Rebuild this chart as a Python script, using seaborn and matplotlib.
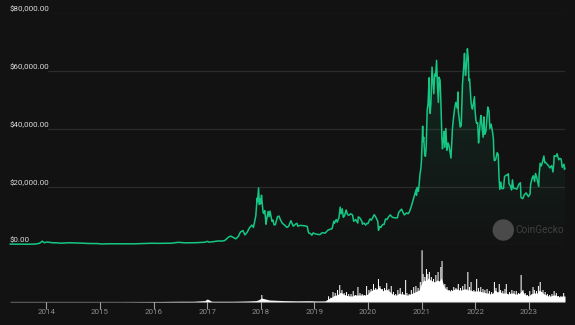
import matplotlib
matplotlib.use("Agg")
import matplotlib.pyplot as plt
import matplotlib.dates as mdates
from matplotlib.patches import Ellipse
import seaborn as sns
import numpy as np
import pandas as pd

# ---------------- data ----------------
price_dates = [
    "2013-04-28", "2013-06-15", "2013-08-15", "2013-10-15", "2013-11-15", "2013-12-04", "2013-12-18",
    "2014-01-05", "2014-02-15", "2014-03-15", "2014-04-10", "2014-06-01", "2014-08-15", "2014-10-15",
    "2014-12-15", "2015-01-14", "2015-03-10", "2015-06-10", "2015-08-20", "2015-11-04", "2015-12-15",
    "2016-02-15", "2016-05-01", "2016-06-18", "2016-08-05", "2016-10-15", "2016-12-15",
    "2017-01-04", "2017-01-12", "2017-02-15", "2017-03-10", "2017-04-15", "2017-05-01", "2017-05-25",
    "2017-06-10", "2017-07-15", "2017-08-01", "2017-08-15", "2017-09-01", "2017-09-15", "2017-10-01",
    "2017-10-15", "2017-11-01", "2017-11-12", "2017-11-28", "2017-12-07", "2017-12-10", "2017-12-17",
    "2017-12-22", "2017-12-27", "2017-12-31",
    "2018-01-06", "2018-01-10", "2018-01-17", "2018-01-22", "2018-01-28", "2018-02-06", "2018-02-10",
    "2018-02-20", "2018-02-26", "2018-03-05", "2018-03-18", "2018-03-25", "2018-04-01", "2018-04-10",
    "2018-04-25", "2018-05-05", "2018-05-15", "2018-05-28", "2018-06-10", "2018-06-28", "2018-07-10",
    "2018-07-25", "2018-08-10", "2018-08-28", "2018-09-05", "2018-09-10", "2018-09-20", "2018-10-01",
    "2018-10-15", "2018-11-01", "2018-11-14", "2018-11-20", "2018-11-25", "2018-12-05", "2018-12-15",
    "2018-12-24",
    "2019-01-01", "2019-01-10", "2019-02-07", "2019-02-24", "2019-03-15", "2019-04-02", "2019-04-20",
    "2019-05-01", "2019-05-14", "2019-05-17", "2019-05-30", "2019-06-06", "2019-06-18", "2019-06-26",
    "2019-07-02", "2019-07-10", "2019-07-17", "2019-07-25", "2019-08-06", "2019-08-15", "2019-08-25",
    "2019-09-05", "2019-09-18", "2019-09-26", "2019-10-10", "2019-10-24", "2019-10-27", "2019-11-05",
    "2019-11-20", "2019-11-25", "2019-12-05", "2019-12-17", "2019-12-25",
    "2020-01-01", "2020-01-15", "2020-01-25", "2020-02-13", "2020-02-25", "2020-03-08", "2020-03-13",
    "2020-03-20", "2020-03-30", "2020-04-10", "2020-04-20", "2020-04-30", "2020-05-10", "2020-05-20",
    "2020-06-01", "2020-06-15", "2020-07-01", "2020-07-20", "2020-07-28", "2020-08-17", "2020-08-25",
    "2020-09-05", "2020-09-20", "2020-10-01", "2020-10-10", "2020-10-21", "2020-11-05", "2020-11-17",
    "2020-11-25", "2020-11-27", "2020-12-01", "2020-12-10", "2020-12-16", "2020-12-20", "2020-12-27",
    "2020-12-31",
    "2021-01-08", "2021-01-11", "2021-01-15", "2021-01-22", "2021-01-27", "2021-02-01", "2021-02-08",
    "2021-02-14", "2021-02-21", "2021-02-23", "2021-02-28", "2021-03-05", "2021-03-13", "2021-03-17",
    "2021-03-25", "2021-03-31", "2021-04-06", "2021-04-13", "2021-04-18", "2021-04-25", "2021-04-30",
    "2021-05-07", "2021-05-12", "2021-05-19", "2021-05-23", "2021-05-28", "2021-06-03", "2021-06-08",
    "2021-06-15", "2021-06-22", "2021-06-30", "2021-07-07", "2021-07-20", "2021-07-30", "2021-08-07",
    "2021-08-14", "2021-08-22", "2021-08-31", "2021-09-06", "2021-09-08", "2021-09-21", "2021-09-28",
    "2021-10-06", "2021-10-15", "2021-10-20", "2021-10-27", "2021-11-01", "2021-11-09", "2021-11-15",
    "2021-11-19", "2021-11-24", "2021-11-28", "2021-12-04", "2021-12-10", "2021-12-14", "2021-12-21",
    "2021-12-27", "2021-12-31",
    "2022-01-05", "2022-01-10", "2022-01-18", "2022-01-24", "2022-01-28", "2022-02-07", "2022-02-10",
    "2022-02-14", "2022-02-24", "2022-03-01", "2022-03-07", "2022-03-15", "2022-03-28", "2022-04-05",
    "2022-04-11", "2022-04-20", "2022-04-30", "2022-05-05", "2022-05-09", "2022-05-12", "2022-05-20",
    "2022-05-31", "2022-06-07", "2022-06-13", "2022-06-18", "2022-06-25", "2022-07-01", "2022-07-13",
    "2022-07-20", "2022-07-30", "2022-08-10", "2022-08-15", "2022-08-19", "2022-08-31", "2022-09-06",
    "2022-09-12", "2022-09-19", "2022-10-01", "2022-10-12", "2022-10-26", "2022-11-05", "2022-11-09",
    "2022-11-21", "2022-12-01", "2022-12-14", "2022-12-30",
    "2023-01-10", "2023-01-14", "2023-01-25", "2023-02-01", "2023-02-10", "2023-02-16", "2023-02-24",
    "2023-03-10", "2023-03-13", "2023-03-20", "2023-03-28", "2023-04-03", "2023-04-14", "2023-04-20",
    "2023-04-26", "2023-05-10", "2023-05-15", "2023-05-25", "2023-06-06", "2023-06-15", "2023-06-21",
    "2023-06-23", "2023-07-06", "2023-07-13", "2023-07-24", "2023-08-01", "2023-08-10", "2023-08-17",
    "2023-08-29", "2023-09-01", "2023-09-05",
]
price_values = [
    135, 110, 100, 130, 420, 1150, 600,
    850, 600, 570, 450, 600, 500, 350,
    320, 180, 260, 230, 230, 350, 430,
    400, 450, 750, 570, 620, 780,
    1100, 800, 1000, 1200, 1200, 1400, 2500,
    2900, 1950, 2800, 4300, 4800, 3300, 4300,
    5700, 6700, 5900, 9900, 16000, 14800, 19500,
    13800, 15800, 14000,
    17000, 14500, 11000, 10700, 11700, 7000, 8600,
    11400, 9600, 11500, 8000, 8400, 6800, 6800,
    9600, 9800, 8500, 7300, 6800, 5900, 6300,
    8200, 6300, 7100, 7300, 6300, 6500, 6600,
    6500, 6400, 6200, 4500, 3900, 3800, 3200,
    4000,
    3800, 3600, 3400, 4100, 3900, 4900, 5300,
    5400, 8000, 7300, 8600, 7700, 9300, 12900,
    10600, 12300, 9400, 9800, 11900, 10300, 10100,
    10600, 10200, 8000, 8600, 7400, 9500, 9300,
    8100, 7000, 7400, 6700, 7300,
    7200, 8800, 8400, 10300, 9300, 8000, 4900,
    6200, 5900, 6900, 6900, 8800, 8600, 9500,
    10200, 9400, 9200, 9200, 11000, 12200, 11300,
    10200, 10900, 10600, 11300, 12900, 15500, 17600,
    19000, 17000, 19700, 18300, 21300, 23800, 26400,
    29000,
    40800, 35500, 37000, 31000, 30400, 33500, 46300,
    48800, 57500, 48000, 45200, 48500, 61200, 58000,
    52000, 58800, 58000, 63500, 56000, 49000, 57700,
    56500, 49500, 37000, 33000, 35500, 39000, 33500,
    40000, 32500, 35000, 34000, 29800, 40000, 44000,
    47000, 49000, 47000, 52600, 46000, 40500, 41000,
    55000, 61500, 65900, 58300, 61000, 67500, 64000,
    56500, 57000, 54000, 49000, 47000, 46700, 49000,
    51000, 46300,
    43400, 41800, 42000, 35000, 37700, 43800, 44500,
    42000, 37000, 44000, 38000, 39000, 47400, 46000,
    40000, 41500, 38500, 36500, 30000, 28900, 29200,
    31700, 31000, 22500, 19000, 21500, 19300, 19300,
    23400, 23900, 24000, 24400, 21000, 20000, 18800,
    22300, 19400, 19300, 19100, 20800, 21300, 16200,
    15800, 17100, 17800, 16500,
    17400, 20800, 23000, 23700, 21700, 24500, 23200,
    20000, 24100, 28000, 27100, 28200, 30500, 28200,
    28300, 27500, 27200, 26400, 27200, 25000, 28300,
    30600, 30400, 31300, 29200, 29700, 29400, 26600,
    27700, 25900, 26400,
]

vol_dates = [
    "2013-04-28", "2014-06-01", "2015-06-01", "2016-01-01", "2016-04-01", "2016-07-01", "2016-10-01",
    "2016-12-15", "2017-01-01", "2017-01-15", "2017-02-01", "2017-04-01", "2017-07-01", "2017-10-01",
    "2017-12-01", "2017-12-20", "2018-01-05", "2018-02-01", "2018-03-01", "2018-06-01", "2018-09-01",
    "2018-12-01", "2019-01-15", "2019-03-15", "2019-04-05", "2019-05-01", "2019-05-15", "2019-06-01",
    "2019-06-15", "2019-07-01", "2019-07-15", "2019-08-01", "2019-08-15", "2019-09-01", "2019-09-15",
    "2019-10-01", "2019-10-15", "2019-11-01", "2019-11-15", "2019-12-01", "2019-12-15",
    "2020-01-01", "2020-01-15", "2020-02-01", "2020-02-15", "2020-03-01", "2020-03-15", "2020-04-01",
    "2020-04-15", "2020-05-01", "2020-05-15", "2020-06-01", "2020-06-15", "2020-07-01", "2020-07-15",
    "2020-08-01", "2020-08-15", "2020-09-01", "2020-09-15", "2020-10-01", "2020-10-15", "2020-11-01",
    "2020-11-15", "2020-12-01", "2020-12-15",
    "2021-01-01", "2021-01-15", "2021-02-01", "2021-02-15", "2021-03-01", "2021-03-15", "2021-04-01",
    "2021-04-15", "2021-05-01", "2021-05-15", "2021-06-01", "2021-06-15", "2021-07-01", "2021-07-15",
    "2021-08-01", "2021-08-15", "2021-09-01", "2021-09-15", "2021-10-01", "2021-10-15", "2021-11-01",
    "2021-11-15", "2021-12-01", "2021-12-15",
    "2022-01-01", "2022-01-15", "2022-02-01", "2022-02-15", "2022-03-01", "2022-03-15", "2022-04-01",
    "2022-04-15", "2022-05-01", "2022-05-15", "2022-06-01", "2022-06-15", "2022-07-01", "2022-07-15",
    "2022-08-01", "2022-08-15", "2022-09-01", "2022-09-15", "2022-10-01", "2022-10-15", "2022-11-01",
    "2022-11-15", "2022-12-01", "2022-12-15",
    "2023-01-01", "2023-01-15", "2023-02-01", "2023-02-15", "2023-03-01", "2023-03-15", "2023-04-01",
    "2023-04-15", "2023-05-01", "2023-05-15", "2023-06-01", "2023-06-15", "2023-07-01", "2023-07-15",
    "2023-08-01", "2023-08-15", "2023-09-05",
]
# daily volume, billions USD (approx.)
vol_values = [
    2, 2, 2, 3, 4, 5, 5,
    10, 21, 14, 5, 5, 5, 7,
    10, 17, 28, 21, 14, 10, 8,
    9, 7, 8, 21, 35, 45, 49,
    56, 70, 56, 49, 45, 42, 42,
    49, 49, 49, 49, 49, 49,
    56, 77, 84, 91, 91, 105, 91,
    77, 91, 84, 70, 56, 49, 49,
    63, 56, 56, 49, 49, 56, 63,
    70, 77, 84,
    133, 154, 147, 168, 154, 147, 140,
    154, 147, 168, 112, 91, 84, 77,
    84, 91, 91, 84, 84, 91, 91,
    84, 84, 77,
    77, 77, 77, 70, 70, 63, 63,
    56, 63, 84, 70, 77, 63, 63,
    63, 56, 63, 63, 56, 56, 63,
    84, 56, 49,
    42, 56, 63, 63, 63, 84, 70,
    56, 49, 42, 42, 49, 49, 42,
    35, 42, 42,
]

spike_dates = [
    "2018-01-08", "2019-04-08", "2019-04-23", "2019-05-08", "2019-05-23", "2019-06-08", "2019-06-23",
    "2019-07-08", "2019-07-23", "2019-08-08", "2019-08-23", "2019-09-08", "2019-09-23", "2019-10-08",
    "2019-10-25", "2019-11-08", "2019-11-23", "2019-12-08", "2019-12-23",
    "2020-01-08", "2020-01-23", "2020-02-08", "2020-02-23", "2020-03-13", "2020-03-23", "2020-04-08",
    "2020-04-23", "2020-05-08", "2020-05-23", "2020-06-08", "2020-06-23", "2020-07-08", "2020-07-23",
    "2020-08-08", "2020-08-23", "2020-09-14", "2020-09-23", "2020-10-08", "2020-10-23", "2020-11-08",
    "2020-11-23", "2020-12-08", "2020-12-23",
    "2021-01-04", "2021-01-11", "2021-01-23", "2021-02-03", "2021-02-12", "2021-02-23", "2021-03-08",
    "2021-03-23", "2021-04-08", "2021-04-23", "2021-05-12", "2021-05-20", "2021-06-08", "2021-06-23",
    "2021-07-08", "2021-07-23", "2021-08-08", "2021-08-23", "2021-09-08", "2021-09-23", "2021-10-08",
    "2021-10-23", "2021-11-12", "2021-11-23", "2021-12-04", "2021-12-23",
    "2022-01-11", "2022-01-23", "2022-02-08", "2022-02-23", "2022-03-08", "2022-03-23", "2022-04-08",
    "2022-04-23", "2022-05-12", "2022-05-23", "2022-06-14", "2022-06-23", "2022-07-08", "2022-07-23",
    "2022-08-01", "2022-08-23", "2022-09-08", "2022-09-23", "2022-10-08", "2022-10-23", "2022-11-10",
    "2022-11-23", "2022-12-08", "2022-12-23",
    "2023-01-08", "2023-01-30", "2023-02-08", "2023-02-23", "2023-03-08", "2023-03-20", "2023-04-08",
    "2023-04-23", "2023-05-08", "2023-05-23", "2023-06-08", "2023-06-23", "2023-07-08", "2023-07-23",
    "2023-08-08", "2023-08-27",
]
spike_values = [
    49, 40, 30, 70, 63, 84, 119,
    84, 63, 70, 56, 56, 77, 49,
    105, 63, 56, 49, 112,
    84, 91, 126, 98, 161, 112, 91,
    98, 133, 91, 112, 70, 56, 84,
    98, 70, 154, 63, 56, 84, 105,
    112, 98, 140,
    362, 196, 175, 231, 196, 210, 175,
    161, 189, 210, 245, 287, 126, 105,
    84, 84, 105, 98, 126, 98, 112,
    126, 210, 105, 140, 84,
    161, 98, 105, 91, 84, 91, 77,
    70, 140, 98, 126, 84, 77, 91,
    126, 70, 84, 77, 77, 63, 189,
    84, 63, 49,
    77, 105, 84, 77, 112, 140, 84,
    70, 56, 49, 56, 77, 63, 42,
    42, 63,
]

years = list(range(2014, 2024))
y_ticks = [0, 20000, 40000, 60000, 80000]
y_labels = ["$0.00", "$20,000.00", "$40,000.00", "$60,000.00", "$80,000.00"]

# ---------------- style ----------------
BG = "#121212"
GREEN = "#16c784"
sns.set_theme(style="dark")
plt.rcParams["font.family"] = ["Roboto", "DejaVu Sans"]

W, H = 575, 325
fig = plt.figure(figsize=(W / 100, H / 100), dpi=100, facecolor=BG)


def px_axes(l, t, r, b):
    return fig.add_axes([l / W, 1 - b / H, (r - l) / W, (b - t) / H])


ax = px_axes(10, 12.5, 565, 244.5)
axv = px_axes(10, 250, 565, 302)

xmin = pd.Timestamp("2013-04-28")
xmax = pd.Timestamp("2023-09-05")
for a in (ax, axv):
    a.set_facecolor("none")
    for s in a.spines.values():
        s.set_visible(False)
    a.set_xlim(xmin, xmax)
    a.grid(False)

# price
df = pd.DataFrame({"date": pd.to_datetime(price_dates), "price": price_values})
ax.set_ylim(0, 80000)
for v in y_ticks:
    ax.axhline(v, xmin=38 / 555, xmax=1, color="#2b2b2b", lw=0.9, zorder=0)

sns.lineplot(data=df, x="date", y="price", ax=ax, color=GREEN, lw=1.1, zorder=3)
for ln in ax.lines:
    if ln.get_color() == GREEN:
        ln.set_clip_on(False)

# gradient fill under the line
poly = ax.fill_between(df["date"], df["price"], 0, facecolor="none", edgecolor="none")
grad = np.zeros((256, 1, 4))
c = matplotlib.colors.to_rgb(GREEN)
grad[:, 0, 0] = c[0]
grad[:, 0, 1] = c[1]
grad[:, 0, 2] = c[2]
grad[:, 0, 3] = np.linspace(0.13, 0.01, 256)
x0n, x1n = mdates.date2num(xmin), mdates.date2num(xmax)
im = ax.imshow(grad, extent=[x0n, x1n, 0, 68000], origin="upper", aspect="auto", zorder=1)
im.set_clip_path(poly.get_paths()[0], transform=ax.transData)
ax.set_xlim(xmin, xmax)
ax.set_ylim(0, 80000)

ax.set_xticks([])
ax.set_yticks([])
ax.set_xlabel("")
ax.set_ylabel("")
for v, lab in zip(y_ticks, y_labels):
    ax.annotate(lab, xy=(0, v), xycoords=("axes fraction", "data"), xytext=(0, 1.3),
                textcoords="offset points", ha="left", va="baseline",
                fontsize=5.8, color="#dcdcdc")

# volume
axv.set_ylim(0, 364)
axv.fill_between(pd.to_datetime(vol_dates), vol_values, 0, color="white", lw=0, zorder=2)
bars = axv.bar(pd.to_datetime(spike_dates), spike_values, width=7, color="white", lw=0, zorder=2)
for b in bars:
    b.set_snap(False)
axv.axhline(0, color="#a8a8a8", lw=0.9, zorder=3)
axv.set_yticks([])
axv.set_xticks([pd.Timestamp(f"{y}-01-01") for y in years])
axv.set_xticklabels([str(y) for y in years])
axv.tick_params(axis="x", direction="out", length=4.8, width=0.8, color="#a0a0a0",
                labelsize=5.8, labelcolor="#8c8c8c", pad=0.6, bottom=True)

# watermark
fig.add_artist(Ellipse((503.3 / W, 1 - 230 / H), 20 / W, 20 / H, transform=fig.transFigure,
                       color="#4a4a4a", zorder=5))
fig.text(515 / W, 1 - 230 / H, "CoinGecko", ha="left", va="center", fontsize=7.2,
         color="#3e3e3e", zorder=5)

fig.savefig("out.png", dpi=100, facecolor=BG)
